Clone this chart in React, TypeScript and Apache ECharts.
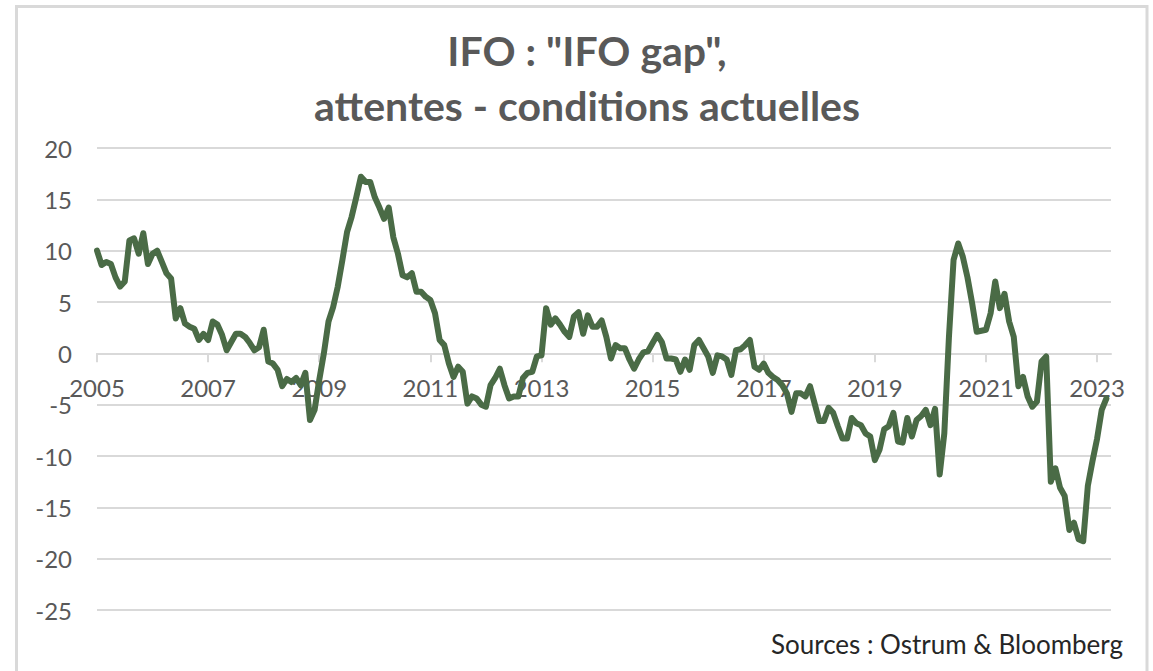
import React, { useEffect, useRef } from "react";
import * as echarts from "echarts";

// Monthly categories, Jan 2005 .. Apr 2023 (axis end)
const months: string[] = [];
for (let y = 2005; y <= 2023; y++) {
  for (let m = 1; m <= 12; m++) {
    if (y === 2023 && m > 4) break;
    months.push(`${y}-${String(m).padStart(2, "0")}`);
  }
}

const TITLE_LINE_1 = 'IFO : "IFO gap",';
const TITLE_LINE_2 = "attentes - conditions actuelles";
const SOURCE = "Sources : Ostrum & Bloomberg";

const yTicks = { min: -25, max: 20, interval: 5 };

// IFO gap (expectations - current situation), monthly
const gap2005_2008 = [
  10.0, 8.6, 8.9, 8.7, 7.4, 6.5, 7.0, 11.0, 11.2, 9.7, 11.7, 8.7,
  9.7, 10.0, 8.9, 7.8, 7.3, 3.4, 4.4, 2.9, 2.6, 2.4, 1.3, 1.9,
  1.3, 3.1, 2.8, 1.8, 0.3, 1.1, 1.9, 1.9, 1.6, 1.0, 0.3, 0.6,
  2.3, -0.8, -1.0, -1.6, -3.2, -2.5, -2.8, -2.4, -3.1, -1.9, -6.5, -5.5,
];
const gap2009_2012 = [
  -2.6, 0.0, 3.1, 4.5, 6.5, 9.1, 11.8, 13.3, 15.2, 17.2, 16.7, 16.7,
  15.2, 14.2, 13.1, 14.2, 11.3, 9.7, 7.6, 7.4, 7.8, 6.0, 6.0, 5.5,
  5.2, 3.9, 1.3, 0.8, -1.0, -2.3, -1.3, -1.8, -4.9, -4.2, -4.4, -5.0,
  -5.2, -3.1, -2.4, -1.5, -3.1, -4.4, -4.2, -4.2, -2.4, -1.9, -1.8, -0.3,
];
const gap2013_2016 = [
  -0.2, 4.4, 2.8, 3.4, 2.8, 2.1, 1.6, 3.6, 4.0, 1.9, 3.7, 2.6,
  2.6, 3.2, 1.6, -0.5, 0.8, 0.5, 0.5, -0.6, -1.5, -0.6, 0.1, 0.2,
  1.0, 1.8, 1.1, -0.5, -0.5, -0.6, -1.8, -0.6, -1.6, 0.8, 1.3, 0.5,
  -0.3, -1.9, -0.2, -0.3, -0.6, -2.1, 0.3, 0.4, 0.8, 1.3, -1.3, -1.6,
];
const gap2017_2020 = [
  -1.0, -1.9, -2.3, -2.6, -3.1, -3.9, -5.7, -3.9, -3.9, -4.2, -3.2, -4.9,
  -6.6, -6.6, -5.3, -5.8, -7.1, -8.3, -8.3, -6.3, -6.8, -7.0, -7.8, -8.1,
  -10.4, -9.4, -7.4, -7.1, -5.8, -8.6, -8.7, -6.3, -8.1, -6.5, -6.1, -5.5,
  -7.0, -5.4, -11.8, -7.8, 1.6, 9.1, 10.7, 9.4, 7.4, 4.9, 2.1, 2.2,
];
const gap2021_2023 = [
  2.3, 3.9, 7.0, 4.4, 5.8, 3.1, 1.6, -3.2, -2.3, -4.2, -5.2, -4.7,
  -0.8, -0.3, -12.5, -11.2, -13.1, -13.9, -17.2, -16.5, -18.1, -18.3, -12.9, -10.5,
  -8.3, -5.5, -4.4,
];

const ifoGap = [
  ...gap2005_2008,
  ...gap2009_2012,
  ...gap2013_2016,
  ...gap2017_2020,
  ...gap2021_2023,
];

const FONT = "Lato, 'Noto Sans', sans-serif";
const GRID = "#d9d9d9";
const LABEL = "#595959";
const LINE = "#4a6b46";

const GRID_TOP = 148;
const GRID_BOTTOM = 61;
const CHART_H = 671;
const PLOT_H = CHART_H - GRID_TOP - GRID_BOTTOM;
// move the category axis up from the bottom of the plot to the zero line
const ZERO_OFFSET = -(PLOT_H * (0 - yTicks.min)) / (yTicks.max - yTicks.min);

const isLabelTick = (index: number) => index % 24 === 0;

export default function App() {
  const ref = useRef<HTMLDivElement>(null);

  useEffect(() => {
    document.body.style.margin = "0";
    if (!ref.current) return;
    const chart = echarts.init(ref.current, undefined, { renderer: "svg" });
    chart.setOption({
      animation: false,
      backgroundColor: "#ffffff",
      grid: { left: 97, right: 42, top: GRID_TOP, bottom: GRID_BOTTOM, containLabel: false },
      xAxis: {
        type: "category",
        data: months,
        boundaryGap: false,
        position: "bottom",
        offset: ZERO_OFFSET,
        axisLine: { show: true, onZero: false, lineStyle: { color: GRID, width: 2 } },
        axisTick: {
          show: true,
          length: 9,
          interval: (i: number) => isLabelTick(i),
          lineStyle: { color: GRID, width: 2 },
        },
        axisLabel: {
          interval: (i: number) => isLabelTick(i),
          formatter: (v: string) => v.slice(0, 4),
          color: LABEL,
          fontFamily: FONT,
          fontSize: 24,
          margin: 22,
        },
        splitLine: { show: false },
      },
      yAxis: {
        type: "value",
        min: yTicks.min,
        max: yTicks.max,
        interval: yTicks.interval,
        axisLine: { show: false },
        axisTick: { show: false },
        axisLabel: { color: LABEL, fontFamily: FONT, fontSize: 24, margin: 25 },
        splitLine: { lineStyle: { color: GRID, width: 2 } },
      },
      series: [
        {
          type: "line",
          data: ifoGap,
          showSymbol: false,
          symbol: "none",
          lineStyle: { color: LINE, width: 6, join: "round", cap: "round" },
          z: 3,
        },
      ],
      graphic: [
        {
          type: "rect",
          shape: { x: 16.5, y: 6.5, width: 1130.5, height: 700 },
          style: { fill: "none", stroke: GRID, lineWidth: 3 },
          silent: true,
        },
        {
          type: "text",
          x: 587,
          y: 50,
          style: {
            text: TITLE_LINE_1,
            fill: LABEL,
            font: `bold 41px ${FONT}`,
            textAlign: "center",
            textVerticalAlign: "middle",
          },
        },
        {
          type: "text",
          x: 587,
          y: 105,
          style: {
            text: TITLE_LINE_2,
            fill: LABEL,
            font: `bold 41px ${FONT}`,
            textAlign: "center",
            textVerticalAlign: "middle",
          },
        },
        {
          type: "text",
          x: 1123,
          y: 644,
          style: {
            text: SOURCE,
            fill: "#262626",
            font: `26px ${FONT}`,
            textAlign: "right",
            textVerticalAlign: "middle",
          },
        },
      ],
    });
    return () => chart.dispose();
  }, []);

  return <div ref={ref} style={{ width: 1153, height: 671 }} />;
}
